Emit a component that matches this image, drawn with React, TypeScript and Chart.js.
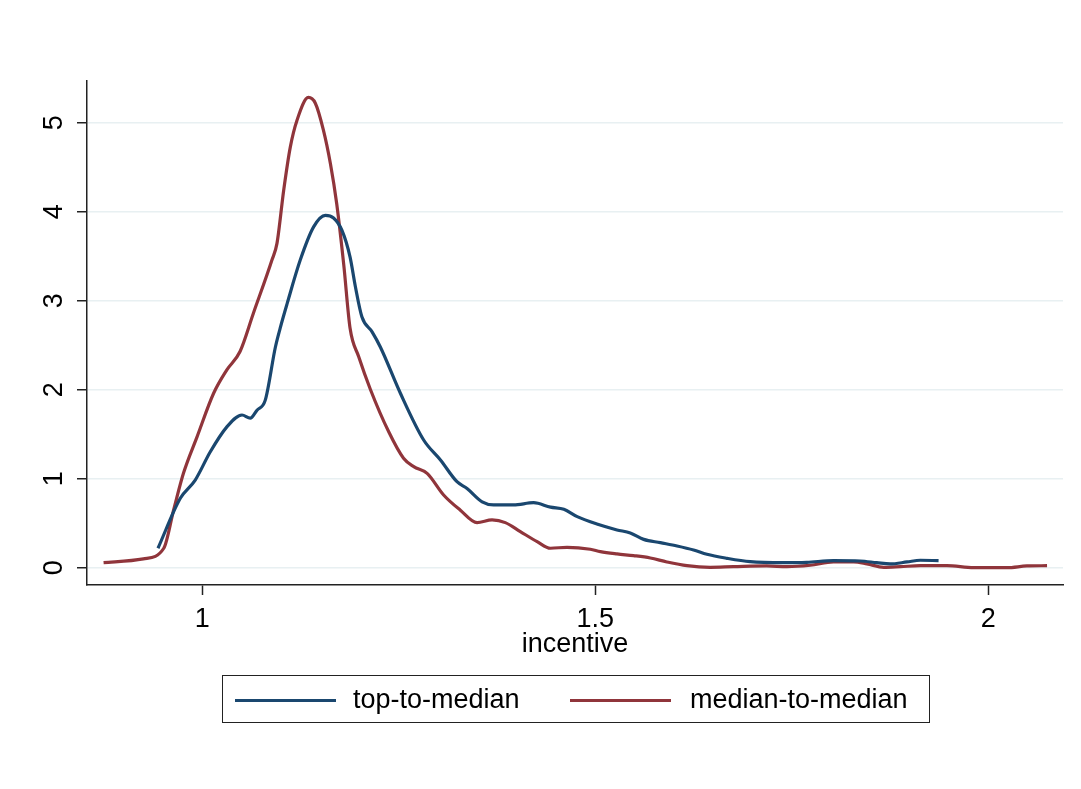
import React, { useEffect, useRef } from "react";
import { Chart, registerables } from "chart.js";

Chart.register(...registerables);

const xTicks = [1, 1.5, 2];
const yTicks = [0, 1, 2, 3, 4, 5];
const xTitle = "incentive";
const seriesNames = ["top-to-median", "median-to-median"];
const seriesColors = ["#1a476f", "#90353b"];

const topX = [
  0.9436, 0.972, 0.991, 1.01, 1.031, 1.0505, 1.061, 1.0696, 1.08, 1.093, 1.099, 1.108,
  1.1247, 1.1416, 1.1565, 1.167, 1.1777, 1.188, 1.1947, 1.203, 1.216, 1.2265, 1.252,
  1.2816, 1.303, 1.324, 1.3368, 1.356, 1.3706, 1.396, 1.4215, 1.443, 1.46, 1.477, 1.502,
  1.5276, 1.5445, 1.5615, 1.5827, 1.604, 1.625, 1.642, 1.6675, 1.697, 1.7396, 1.769,
  1.803, 1.837, 1.858, 1.875, 1.8966, 1.9135, 1.9367,
];
const topY = [
  0.218, 0.78, 0.985, 1.3, 1.58, 1.716, 1.68, 1.77, 1.88, 2.48, 2.69, 2.97,
  3.46, 3.83, 3.96, 3.93, 3.79, 3.49, 3.16, 2.82, 2.65, 2.48, 1.96,
  1.435, 1.21, 0.966, 0.89, 0.74, 0.705, 0.705, 0.73, 0.68, 0.656, 0.573, 0.49,
  0.424, 0.39, 0.318, 0.281, 0.244, 0.199, 0.15, 0.105, 0.067, 0.056, 0.06,
  0.079, 0.075, 0.056, 0.042, 0.064, 0.083, 0.079,
];

const medX = [
  0.8744, 0.925, 0.951, 0.9635, 0.976, 0.9933, 1.0144, 1.031, 1.048, 1.065, 1.0887,
  1.095, 1.1035, 1.112, 1.1205, 1.135, 1.1438, 1.154, 1.163, 1.171, 1.18, 1.188, 1.199,
  1.214, 1.237, 1.256, 1.269, 1.286, 1.307, 1.328, 1.3495, 1.3686, 1.3855, 1.4046, 1.426,
  1.443, 1.464, 1.4936, 1.5064, 1.5276, 1.5487, 1.57, 1.591, 1.6166, 1.646, 1.676, 1.718,
  1.744, 1.7735, 1.803, 1.8286, 1.8456, 1.867, 1.888, 1.9135, 1.9474, 1.9813, 2.0238,
  2.049, 2.0747,
];
const medY = [
  0.056, 0.098, 0.218, 0.648, 1.06, 1.47, 1.96, 2.22, 2.43, 2.86, 3.46,
  3.645, 4.24, 4.73, 5.03, 5.285, 5.22, 4.92, 4.54, 4.09, 3.4, 2.69, 2.37,
  2.0, 1.53, 1.23, 1.135, 1.06, 0.817, 0.648, 0.506, 0.536, 0.506, 0.405, 0.292,
  0.218, 0.229, 0.207, 0.18, 0.154, 0.135, 0.109, 0.064, 0.022, 0.004, 0.011, 0.019,
  0.011, 0.027, 0.064, 0.064, 0.042, 0.004, 0.011, 0.022, 0.022, 0.0, 0.0,
  0.019, 0.022,
];

const FONT = "'Liberation Sans', Arial, Helvetica, sans-serif";

function zip(xs: number[], ys: number[]) {
  return xs.map((x, i) => ({ x, y: ys[i] }));
}

export default function App() {
  const ref = useRef<HTMLCanvasElement | null>(null);

  useEffect(() => {
    if (!ref.current) return;
    const chart = new Chart(ref.current, {
      type: "line",
      data: {
        datasets: [
          {
            label: seriesNames[0],
            data: zip(topX, topY),
            borderColor: seriesColors[0],
            borderWidth: 3.2,
            pointRadius: 0,
            cubicInterpolationMode: "monotone",
            fill: false,
          },
          {
            label: seriesNames[1],
            data: zip(medX, medY),
            borderColor: seriesColors[1],
            borderWidth: 3.2,
            pointRadius: 0,
            cubicInterpolationMode: "monotone",
            fill: false,
          },
        ],
      },
      options: {
        animation: false,
        responsive: false,
        devicePixelRatio: 1,
        layout: { padding: { left: 0, top: 81, right: 18, bottom: 128 } },
        plugins: { legend: { display: false }, tooltip: { enabled: false } },
        scales: {
          x: {
            type: "linear",
            min: 0.8533,
            max: 2.095,
            afterBuildTicks: (s: any) => {
              s.ticks = xTicks.map((v) => ({ value: v }));
            },
            afterFit: (s: any) => {
              s.height = 76;
            },
            ticks: {
              autoSkip: false,
              maxRotation: 0,
              minRotation: 0,
              padding: 8,
              color: "#000",
              font: { family: FONT, size: 27 },
              callback: (v: any) => String(v),
            },
            grid: {
              drawOnChartArea: false,
              drawTicks: true,
              tickLength: 10,
              tickColor: "#222",
              tickWidth: 1.5,
            },
            border: { display: true, color: "#222", width: 1.5 },
            title: {
              display: true,
              text: xTitle,
              color: "#000",
              font: { family: FONT, size: 27 },
              padding: { top: 0, bottom: 0 },
            },
          },
          y: {
            type: "linear",
            min: -0.195,
            max: 5.47,
            afterBuildTicks: (s: any) => {
              s.ticks = yTicks.map((v) => ({ value: v }));
            },
            afterFit: (s: any) => {
              s.width = 87;
            },
            ticks: {
              autoSkip: false,
              minRotation: 90,
              maxRotation: 90,
              crossAlign: "center",
              padding: 15,
              color: "#000",
              font: { family: FONT, size: 27 },
              callback: (v: any) => String(v),
            },
            grid: {
              color: "#e8f0f2",
              lineWidth: 1.5,
              drawTicks: true,
              tickLength: 10,
              tickColor: "#222",
              tickWidth: 1.5,
            },
            border: { display: true, color: "#222", width: 1.5 },
          },
        },
      },
    } as any);
    return () => chart.destroy();
  }, []);

  const textStyle: React.CSSProperties = {
    position: "absolute",
    top: 0,
    height: 48,
    lineHeight: "46px",
    fontFamily: FONT,
    fontSize: 27,
    color: "#000",
    whiteSpace: "nowrap",
  };
  const lineStyle = (color: string, left: number): React.CSSProperties => ({
    position: "absolute",
    left,
    top: 23,
    width: 101,
    height: 3,
    background: color,
  });

  return (
    <div style={{ position: "absolute", left: 0, top: 0, width: 1081, height: 789, background: "#fff" }}>
      <canvas ref={ref} width={1081} height={789} style={{ display: "block", width: 1081, height: 789 }} />
      <div
        style={{
          position: "absolute",
          left: 222,
          top: 675,
          width: 708,
          height: 48,
          boxSizing: "border-box",
          border: "1.5px solid #222",
        }}
      >
        <div style={lineStyle(seriesColors[0], 12)} />
        <div style={{ ...textStyle, left: 130 }}>{seriesNames[0]}</div>
        <div style={lineStyle(seriesColors[1], 347)} />
        <div style={{ ...textStyle, left: 467 }}>{seriesNames[1]}</div>
      </div>
    </div>
  );
}
